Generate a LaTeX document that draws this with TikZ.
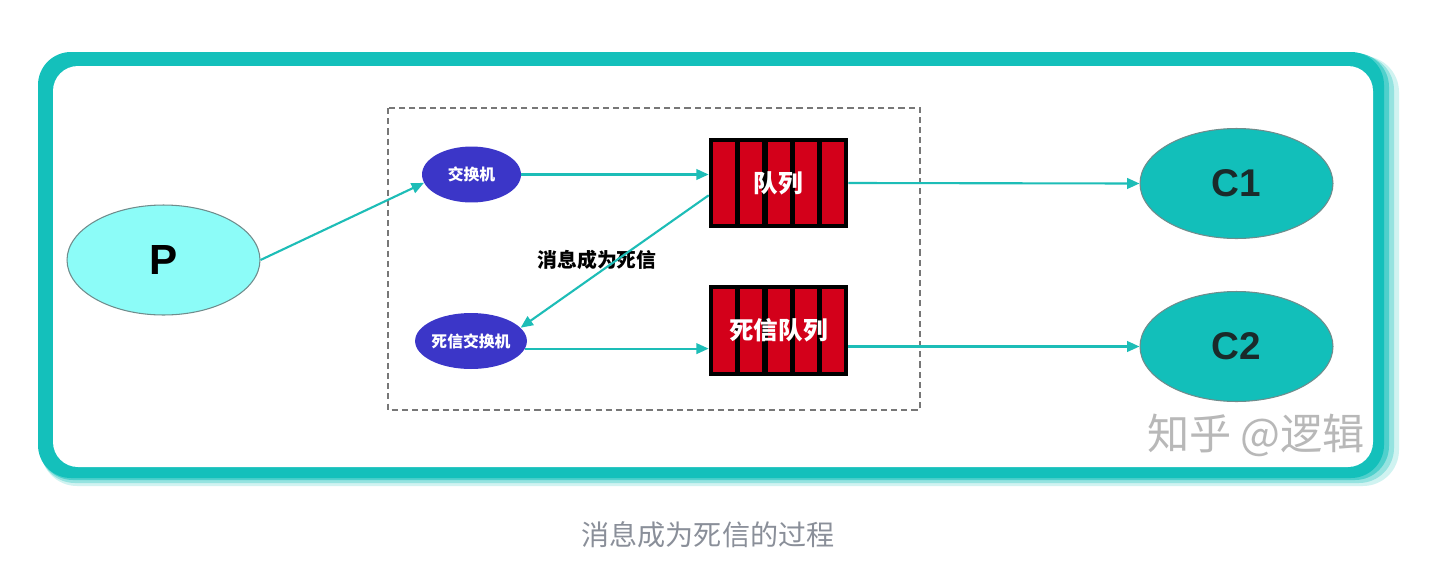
\documentclass[tikz,border=0pt]{standalone}
\usepackage{fontspec}
\setmainfont{Liberation Sans}
\newfontfamily\cjk{Noto Sans CJK SC}
\usepackage{xcolor}
\definecolor{mqFrame}{HTML}{14C0BB}
\definecolor{mqCyan}{HTML}{8CFCF8}
\definecolor{mqTeal}{HTML}{12BFBA}
\definecolor{mqEdge}{HTML}{6F8C8C}
\definecolor{mqBlue}{HTML}{3B36C8}
\definecolor{mqRed}{HTML}{D3001A}
\definecolor{mqLine}{HTML}{1DBDB7}
\definecolor{mqDash}{HTML}{777777}
\definecolor{mqInk}{HTML}{1A2A2A}
\definecolor{mqCaption}{HTML}{8A8F99}
\usetikzlibrary{arrows.meta, shapes.geometric}

\begin{document}
\begin{tikzpicture}[
		x=0.02cm, y=-0.02cm,
		actor/.style={
			ellipse,
			draw=mqEdge,
			line width=0.6pt,
			minimum width=3.86cm,
			minimum height=2.2cm,
			inner sep=0pt
		},
		exch/.style={
			ellipse,
			fill=mqBlue,
			minimum width=1.98cm,
			minimum height=1.12cm,
			inner sep=0pt,
			text=white,
			font=\cjk\bfseries\fontsize{9}{9}\selectfont
		},
		queue/.style={
			rectangle,
			fill=black,
			minimum width=2.78cm,
			minimum height=1.82cm,
			inner sep=0pt,
			text=white,
			font=\cjk\bfseries\fontsize{14}{14}\selectfont,
			path picture={
				\foreach \i in {0,...,4}
					\fill[mqRed] ([xshift={0.08cm+\i*0.545cm}, yshift=0.08cm]path picture bounding box.south west) rectangle ++(0.44cm,1.66cm);
			}
		},
		arrow/.style={-{Triangle[length=7pt,width=6pt]}, line width=1.2pt, draw=mqLine, fill=mqLine}
		]
		
		\useasboundingbox (0,0) rectangle (1451,582);
		
		\fill[mqFrame!20, rounded corners=0.72cm] (41,56) rectangle (1399,486);
		\fill[mqFrame!45, rounded corners=0.7cm] (40,55) rectangle (1394,483);
		\fill[mqFrame!75, rounded corners=0.68cm] (39,53) rectangle (1389,480);
		\fill[mqFrame, rounded corners=0.66cm] (38,52) rectangle (1384,478);
		\fill[white, rounded corners=0.5cm] (53,66) rectangle (1373,467);
		\draw[mqDash, line width=0.9pt, dash pattern=on 3.5pt off 2.3pt] (388,108) rectangle (920,410);
		
		\node[actor, fill=mqCyan, font=\bfseries\fontsize{24}{24}\selectfont] (p) at (163.5,260) {P};
		\node[exch] (ex) at (471.5,174.5) {交换机};
		\node[exch] (dlx) at (471,341) {死信交换机};
		\node[queue] (q) at (778.5,183) {队列};
		\node[queue] (dlq) at (778.5,330.5) {死信队列};
		\node[actor, fill=mqTeal, text=mqInk, font=\bfseries\fontsize{22}{22}\selectfont] (c1) at (1236.5,183.5) {C1};
		\node[actor, fill=mqTeal, text=mqInk, font=\bfseries\fontsize{22}{22}\selectfont] (c2) at (1236.5,346.5) {C2};
		
		\node[font=\cjk\bfseries\fontsize{11.3}{11.3}\selectfont] (dead) at (597,260) {消息成为死信};
		\node[text=black!28, font=\cjk\fontsize{24}{24}\selectfont] (mark) at (1256,435) {知乎 @逻辑};
		\node[text=mqCaption, font=\cjk\fontsize{16}{16}\selectfont] (cap) at (708,535) {消息成为死信的过程};
		
		\draw[arrow] (p.east) -- (ex.190);
		\draw[arrow] (ex.east) -- (ex.east -| q.west);
		\draw[arrow] (q.190) -- (dlx.15);
		\draw[arrow] (dlx.-8) -- (dlx.-8 -| dlq.west);
		\draw[arrow] (q.east) -- (c1.west);
		\draw[arrow] (dlq.east |- c2.west) -- (c2.west);
		
	\end{tikzpicture}
\end{document}
